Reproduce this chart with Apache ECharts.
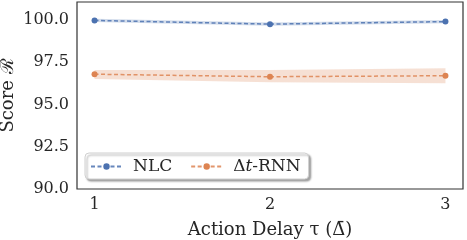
<!DOCTYPE html>
<html><head><meta charset="utf-8">
<script src="https://cdn.jsdelivr.net/npm/echarts@6/dist/echarts.min.js"></script>
<style>html,body{margin:0;padding:0;background:#fff}#c{width:467px;height:240px}</style>
</head><body><div id="c"></div>
<script>
var delays = [1, 2, 3];
var nlcMean = [99.97, 99.75, 99.90];
var nlcLow = [99.87, 99.65, 99.80];
var nlcHigh = [100.07, 99.85, 100.00];
var rnnMean = [96.79, 96.64, 96.70];
var rnnLow = [96.51, 96.31, 96.25];
var rnnHigh = [97.04, 97.04, 97.14];
var yTicks = [90, 92.5, 95, 97.5, 100];
var seriesNames = ['NLC', 'Δt-RNN'];

var SERIF = '"DejaVu Serif", serif';
var blue = '#4c72b0', orange = '#dd8452';

function pairs(xs, ys) { return xs.map(function (x, i) { return [x, ys[i]]; }); }

function bandSeries(low, high, color) {
  return {
    type: 'custom', silent: true, z: 1,
    data: [0],
    renderItem: function (params, api) {
      var pts = [];
      for (var i = 0; i < delays.length; i++) pts.push(api.coord([delays[i], high[i]]));
      for (var j = delays.length - 1; j >= 0; j--) pts.push(api.coord([delays[j], low[j]]));
      return { type: 'polygon', shape: { points: pts }, style: { fill: color, opacity: 0.25 } };
    }
  };
}

var chart = echarts.init(document.getElementById('c'), null, { renderer: 'canvas' });
chart.setOption({
  animation: false,
  grid: { left: 77, right: 4, top: 2, bottom: 51, outerBoundsMode: 'none', containLabel: false,
    show: true, borderColor: '#333', borderWidth: 1.2, backgroundColor: '#fff' },
  xAxis: {
    type: 'value', min: 0.9, max: 3.1,
    name: 'Action Delay τ (Δ̄)', nameLocation: 'middle', nameGap: 32, nameMoveOverlap: false,
    nameTextStyle: { fontFamily: SERIF, fontSize: 18, color: '#262626' },
    axisLine: { show: false }, axisTick: { show: false }, splitLine: { show: false },
    axisLabel: { customValues: delays, fontFamily: SERIF, fontSize: 16, color: '#262626', margin: 8 }
  },
  yAxis: {
    type: 'value', min: 90, max: 101.06, interval: 2.5,
    name: 'Score ℛ', nameLocation: 'middle', nameGap: 60, nameRotate: 90, nameMoveOverlap: false,
    nameTextStyle: { fontFamily: SERIF, fontSize: 18, color: '#262626' },
    axisLine: { show: false }, axisTick: { show: false }, splitLine: { show: false },
    axisLabel: { customValues: yTicks, fontFamily: SERIF, fontSize: 16, color: '#262626', margin: 8,
      formatter: function (v) { return v.toFixed(1); } }
  },
  legend: {
    left: 85, top: 153, orient: 'horizontal',
    itemWidth: 31, itemHeight: 8, itemGap: 18,
    padding: [5, 8, 4, 5],
    backgroundColor: '#fff', borderColor: '#d0d0d0', borderWidth: 1, borderRadius: 4,
    shadowColor: 'rgba(0,0,0,0.35)', shadowBlur: 2, shadowOffsetX: 2, shadowOffsetY: 2,
    textStyle: { fontFamily: SERIF, fontSize: 17, color: '#262626', padding: [0, 0, 0, 6],
      rich: { a: { fontFamily: SERIF, fontSize: 17, color: '#262626' },
              i: { fontFamily: SERIF, fontSize: 17, fontStyle: 'italic', color: '#262626' } } },
    formatter: function (n) { return n === 'Δt-RNN' ? '{a|Δ}{i|t}{a|-RNN}' : n; },
    data: seriesNames
  },
  series: [
    bandSeries(nlcLow, nlcHigh, blue),
    bandSeries(rnnLow, rnnHigh, orange),
    { name: seriesNames[0], type: 'line', z: 3, data: pairs(delays, nlcMean),
      symbol: 'circle', symbolSize: 6, itemStyle: { color: blue },
      lineStyle: { color: blue, width: 1.5, type: [4, 2.5], opacity: 0.85 } },
    { name: seriesNames[1], type: 'line', z: 3, data: pairs(delays, rnnMean),
      symbol: 'circle', symbolSize: 6, itemStyle: { color: orange },
      lineStyle: { color: orange, width: 1.5, type: [4, 2.5], opacity: 0.85 } }
  ]
});
</script></body></html>
